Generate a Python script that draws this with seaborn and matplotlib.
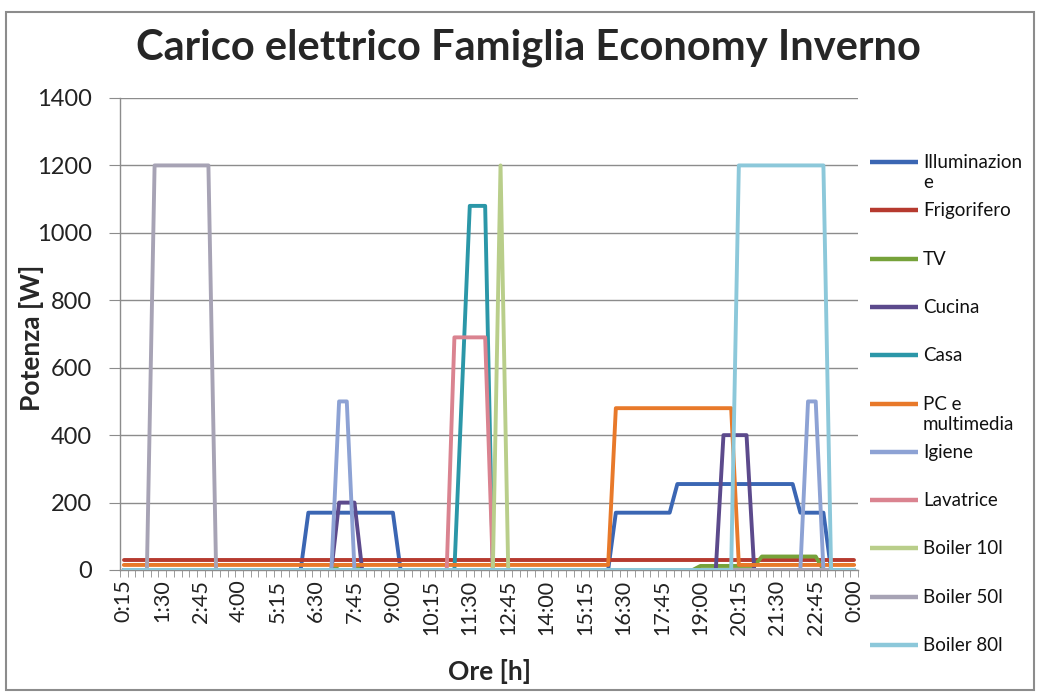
import matplotlib
matplotlib.use("Agg")
import matplotlib.pyplot as plt
from matplotlib.patches import Rectangle
from matplotlib.lines import Line2D
import seaborn as sns
import pandas as pd

# ---------------- data (W, one value every 15 minutes, 0:15 .. 0:00) ----------------
slots = [f"{((15 * (k + 1)) // 60) % 24}:{(15 * (k + 1)) % 60:02d}" for k in range(96)]

tick_labels = ["0:15", "1:30", "2:45", "4:00", "5:15", "6:30", "7:45", "9:00", "10:15",
               "11:30", "12:45", "14:00", "15:15", "16:30", "17:45", "19:00", "20:15",
               "21:30", "22:45", "0:00"]

illuminazione = [0, 0, 0, 0, 0, 0, 0, 0, 0, 0, 0, 0,
                 0, 0, 0, 0, 0, 0, 0, 0, 0, 0, 0, 0,
                 170, 170, 170, 170, 170, 170, 170, 170, 170, 170, 170, 170,
                 0, 0, 0, 0, 0, 0, 0, 0, 0, 0, 0, 0,
                 0, 0, 0, 0, 0, 0, 0, 0, 0, 0, 0, 0,
                 0, 0, 0, 0, 170, 170, 170, 170, 170, 170, 170, 170,
                 255, 255, 255, 255, 255, 255, 255, 255, 255, 255, 255, 255,
                 255, 255, 255, 255, 170, 170, 170, 170, 0, 0, 0, 0]

frigorifero = [30, 30, 30, 30, 30, 30, 30, 30, 30, 30, 30, 30,
               30, 30, 30, 30, 30, 30, 30, 30, 30, 30, 30, 30,
               30, 30, 30, 30, 30, 30, 30, 30, 30, 30, 30, 30,
               30, 30, 30, 30, 30, 30, 30, 30, 30, 30, 30, 30,
               30, 30, 30, 30, 30, 30, 30, 30, 30, 30, 30, 30,
               30, 30, 30, 30, 30, 30, 30, 30, 30, 30, 30, 30,
               30, 30, 30, 30, 30, 30, 30, 30, 30, 30, 30, 30,
               30, 30, 30, 30, 30, 30, 30, 30, 30, 30, 30, 30]

tv = [0, 0, 0, 0, 0, 0, 0, 0, 0, 0, 0, 0,
      0, 0, 0, 0, 0, 0, 0, 0, 0, 0, 0, 0,
      0, 0, 0, 0, 15, 15, 15, 0, 0, 0, 0, 0,
      0, 0, 0, 0, 0, 0, 0, 0, 0, 0, 0, 0,
      0, 0, 0, 0, 0, 0, 0, 0, 0, 0, 0, 0,
      0, 0, 0, 0, 0, 0, 0, 0, 0, 0, 0, 0,
      0, 0, 0, 12, 12, 12, 12, 12, 12, 12, 12, 40,
      40, 40, 40, 40, 40, 40, 40, 0, 0, 0, 0, 0]

cucina = [0, 0, 0, 0, 0, 0, 0, 0, 0, 0, 0, 0,
          0, 0, 0, 0, 0, 0, 0, 0, 0, 0, 0, 0,
          0, 0, 0, 0, 200, 200, 200, 0, 0, 0, 0, 0,
          0, 0, 0, 0, 0, 0, 0, 0, 0, 0, 0, 0,
          0, 0, 0, 0, 0, 0, 0, 0, 0, 0, 0, 0,
          0, 0, 0, 0, 0, 0, 0, 0, 0, 0, 0, 0,
          0, 0, 0, 0, 0, 0, 400, 400, 400, 400, 0, 0,
          0, 0, 0, 0, 0, 0, 0, 0, 0, 0, 0, 0]

casa = [0, 0, 0, 0, 0, 0, 0, 0, 0, 0, 0, 0,
        0, 0, 0, 0, 0, 0, 0, 0, 0, 0, 0, 0,
        0, 0, 0, 0, 0, 0, 0, 0, 0, 0, 0, 0,
        0, 0, 0, 0, 0, 0, 0, 0, 540, 1080, 1080, 1080,
        0, 0, 0, 0, 0, 0, 0, 0, 0, 0, 0, 0,
        0, 0, 0, 0, 0, 0, 0, 0, 0, 0, 0, 0,
        0, 0, 0, 0, 0, 0, 0, 0, 0, 0, 0, 0,
        0, 0, 0, 0, 0, 0, 0, 0, 0, 0, 0, 0]

pc_multimedia = [15, 15, 15, 15, 15, 15, 15, 15, 15, 15, 15, 15,
                 15, 15, 15, 15, 15, 15, 15, 15, 15, 15, 15, 15,
                 15, 15, 15, 15, 15, 15, 15, 15, 15, 15, 15, 15,
                 15, 15, 15, 15, 15, 15, 15, 15, 15, 15, 15, 15,
                 15, 15, 15, 15, 15, 15, 15, 15, 15, 15, 15, 15,
                 15, 15, 15, 15, 480, 480, 480, 480, 480, 480, 480, 480,
                 480, 480, 480, 480, 480, 480, 480, 480, 15, 15, 15, 15,
                 15, 15, 15, 15, 15, 15, 15, 15, 15, 15, 15, 15]

igiene = [0, 0, 0, 0, 0, 0, 0, 0, 0, 0, 0, 0,
          0, 0, 0, 0, 0, 0, 0, 0, 0, 0, 0, 0,
          0, 0, 0, 0, 500, 500, 0, 0, 0, 0, 0, 0,
          0, 0, 0, 0, 0, 0, 0, 0, 0, 0, 0, 0,
          0, 0, 0, 0, 0, 0, 0, 0, 0, 0, 0, 0,
          0, 0, 0, 0, 0, 0, 0, 0, 0, 0, 0, 0,
          0, 0, 0, 0, 0, 0, 0, 0, 0, 0, 0, 0,
          0, 0, 0, 0, 0, 500, 500, 0, 0, 0, 0, 0]

lavatrice = [0, 0, 0, 0, 0, 0, 0, 0, 0, 0, 0, 0,
             0, 0, 0, 0, 0, 0, 0, 0, 0, 0, 0, 0,
             0, 0, 0, 0, 0, 0, 0, 0, 0, 0, 0, 0,
             0, 0, 0, 0, 0, 0, 0, 690, 690, 690, 690, 690,
             0, 0, 0, 0, 0, 0, 0, 0, 0, 0, 0, 0,
             0, 0, 0, 0, 0, 0, 0, 0, 0, 0, 0, 0,
             0, 0, 0, 0, 0, 0, 0, 0, 0, 0, 0, 0,
             0, 0, 0, 0, 0, 0, 0, 0, 0, 0, 0, 0]

boiler_10l = [0, 0, 0, 0, 0, 0, 0, 0, 0, 0, 0, 0,
              0, 0, 0, 0, 0, 0, 0, 0, 0, 0, 0, 0,
              0, 0, 0, 0, 0, 0, 0, 0, 0, 0, 0, 0,
              0, 0, 0, 0, 0, 0, 0, 0, 0, 0, 0, 0,
              0, 1200, 0, 0, 0, 0, 0, 0, 0, 0, 0, 0,
              0, 0, 0, 0, 0, 0, 0, 0, 0, 0, 0, 0,
              0, 0, 0, 0, 0, 0, 0, 0, 0, 0, 0, 0,
              0, 0, 0, 0, 0, 0, 0, 0, 0, 0, 0, 0]

boiler_50l = [0, 0, 0, 0, 1200, 1200, 1200, 1200, 1200, 1200, 1200, 1200,
              0, 0, 0, 0, 0, 0, 0, 0, 0, 0, 0, 0,
              0, 0, 0, 0, 0, 0, 0, 0, 0, 0, 0, 0,
              0, 0, 0, 0, 0, 0, 0, 0, 0, 0, 0, 0,
              0, 0, 0, 0, 0, 0, 0, 0, 0, 0, 0, 0,
              0, 0, 0, 0, 0, 0, 0, 0, 0, 0, 0, 0,
              0, 0, 0, 0, 0, 0, 0, 0, 0, 0, 0, 0,
              0, 0, 0, 0, 0, 0, 0, 0, 0, 0, 0, 0]

boiler_80l = [0, 0, 0, 0, 0, 0, 0, 0, 0, 0, 0, 0,
              0, 0, 0, 0, 0, 0, 0, 0, 0, 0, 0, 0,
              0, 0, 0, 0, 0, 0, 0, 0, 0, 0, 0, 0,
              0, 0, 0, 0, 0, 0, 0, 0, 0, 0, 0, 0,
              0, 0, 0, 0, 0, 0, 0, 0, 0, 0, 0, 0,
              0, 0, 0, 0, 0, 0, 0, 0, 0, 0, 0, 0,
              0, 0, 0, 0, 0, 0, 0, 0, 1200, 1200, 1200, 1200,
              1200, 1200, 1200, 1200, 1200, 1200, 1200, 1200, 0, 0, 0, 0]

series_names = ["Illuminazione", "Frigorifero", "TV", "Cucina", "Casa", "PC e multimedia",
                "Igiene", "Lavatrice", "Boiler 10l", "Boiler 50l", "Boiler 80l"]
legend_labels = ["Illuminazion\ne", "Frigorifero", "TV", "Cucina", "Casa", "PC e\nmultimedia",
                 "Igiene", "Lavatrice", "Boiler 10l", "Boiler 50l", "Boiler 80l"]
series_values = [illuminazione, frigorifero, tv, cucina, casa, pc_multimedia,
                 igiene, lavatrice, boiler_10l, boiler_50l, boiler_80l]
colors = ["#3B66B3", "#B63A2F", "#76A23A", "#5C4A8C", "#2B97A8", "#E8792A",
          "#8DA2D4", "#DA8390", "#B9CE8A", "#A7A3B5", "#8CC8DA"]

rows = []
for name, vals in zip(series_names, series_values):
    for k, v in enumerate(vals):
        rows.append({"pos": k, "Ore": slots[k], "Serie": name, "Potenza": v})
df = pd.DataFrame(rows)

# ---------------- style ----------------
sns.set_style("white")
plt.rcParams["font.family"] = ["Lato", "DejaVu Sans"]

W, H = 1041, 694
fig = plt.figure(figsize=(W / 100, H / 100), dpi=100)
ax = fig.add_axes([120 / W, 1 - 570 / H, (858 - 120) / W, (570 - 98) / H])

# outer chart border
fig.add_artist(Rectangle((6 / W, 4 / H), (1034 - 6) / W, (682 - 4) / H,
                         transform=fig.transFigure, fill=False,
                         edgecolor="#8C8C8C", linewidth=1.5))

sns.lineplot(data=df, x="pos", y="Potenza", hue="Serie", hue_order=series_names,
             palette=colors, linewidth=2.8, legend=False, ax=ax,
             solid_joinstyle="round", solid_capstyle="round", zorder=3)

ax.set_xlim(-0.5, 95.5)
ax.set_ylim(0, 1400)
ax.set_yticks(range(0, 1401, 200))
ax.set_xticks(range(0, 96, 5))
ax.set_xticklabels(tick_labels, rotation=90, fontsize=15.5, color="#222222")
ax.set_xticks([k - 0.5 for k in range(97)], minor=True)
ax.tick_params(axis="y", labelsize=17, labelcolor="#222222", length=8,
               color="#8C8C8C", direction="out", left=True, pad=12)
ax.tick_params(axis="x", which="major", length=0, pad=7)
ax.tick_params(axis="x", which="minor", length=5, color="#8C8C8C", direction="out", bottom=True)

ax.grid(axis="y", color="#8C8C8C", linewidth=1.0)
ax.grid(axis="x", visible=False)
ax.set_axisbelow(True)
for side in ["top", "right"]:
    ax.spines[side].set_visible(False)
for side in ["left", "bottom"]:
    ax.spines[side].set_color("#8C8C8C")
    ax.spines[side].set_linewidth(1.0)

ax.set_xlabel("Ore [h]", fontsize=19, fontweight="bold", labelpad=17)
ax.set_ylabel("Potenza [W]", fontsize=19, fontweight="bold")
ax.yaxis.set_label_coords(44 / W, 1 - 338 / H, transform=fig.transFigure)

fig.text(528 / W, 1 - 48 / H, "Carico elettrico Famiglia Economy Inverno",
         ha="center", va="center", fontsize=30, fontweight="bold")

# legend laid out like the spreadsheet one: fixed row pitch, wrapped text hangs below
series_lines = ax.get_lines()[:len(series_names)]
row0, pitch = 162, 48.3
for i, (line, label) in enumerate(zip(series_lines, legend_labels)):
    y = 1 - (row0 + pitch * i) / H
    fig.add_artist(Line2D([870 / W, 918 / W], [y, y], transform=fig.transFigure,
                          color=line.get_color(), linewidth=3.2, solid_capstyle="butt"))
    fig.text(923 / W, y + 8 / H, label, ha="left", va="top",
             fontsize=13.5, linespacing=1.25, color="#111111")

fig.savefig("out.png", dpi=100)
